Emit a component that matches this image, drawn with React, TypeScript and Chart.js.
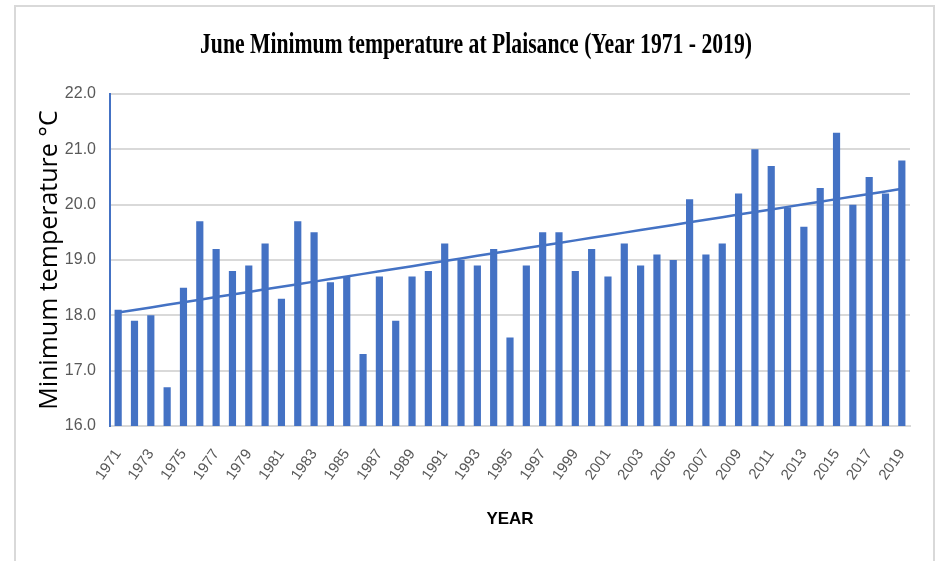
import React, { useEffect, useRef } from "react";
import { Chart, registerables } from "chart.js";

Chart.register(...registerables);

const years: string[] = [
  "1971","1972","1973","1974","1975","1976","1977","1978","1979","1980",
  "1981","1982","1983","1984","1985","1986","1987","1988","1989","1990",
  "1991","1992","1993","1994","1995","1996","1997","1998","1999","2000",
  "2001","2002","2003","2004","2005","2006","2007","2008","2009","2010",
  "2011","2012","2013","2014","2015","2016","2017","2018","2019",
];

const minTemp: number[] = [
  18.1, 17.9, 18.0, 16.7, 18.5, 19.7, 19.2, 18.8, 18.9, 19.3,
  18.3, 19.7, 19.5, 18.6, 18.7, 17.3, 18.7, 17.9, 18.7, 18.8,
  19.3, 19.0, 18.9, 19.2, 17.6, 18.9, 19.5, 19.5, 18.8, 19.2,
  18.7, 19.3, 18.9, 19.1, 19.0, 20.1, 19.1, 19.3, 20.2, 21.0,
  20.7, 19.95, 19.6, 20.3, 21.3, 20.0, 20.5, 20.2, 20.8,
];

const yTicks: number[] = [16, 17, 18, 19, 20, 21, 22];

const titleText = "June Minimum temperature at Plaisance (Year 1971 - 2019)";
const yTitle = "Minimum temperature °C";
const xTitle = "YEAR";

function linearTrend(vals: number[]): number[] {
  const n = vals.length;
  let sx = 0, sy = 0, sxx = 0, sxy = 0;
  vals.forEach((v, i) => { sx += i; sy += v; sxx += i * i; sxy += i * v; });
  const b = (n * sxy - sx * sy) / (n * sxx - sx * sx);
  const a = (sy - b * sx) / n;
  return vals.map((_, i) => a + b * i);
}

const framePlugin = {
  id: "frame",
  beforeDraw(chart: any) {
    const ctx = chart.ctx;
    ctx.save();
    ctx.fillStyle = "#ffffff";
    ctx.fillRect(0, 0, chart.width, chart.height);
    ctx.strokeStyle = "#d9d9d9";
    ctx.lineWidth = 2;
    ctx.beginPath();
    ctx.moveTo(15, 561);
    ctx.lineTo(15, 6);
    ctx.lineTo(934, 6);
    ctx.lineTo(934, 561);
    ctx.stroke();
    ctx.restore();
  },
  afterDraw(chart: any) {
    // condensed serif title, like the original
    const ctx = chart.ctx;
    ctx.save();
    ctx.font = "bold 29px 'Liberation Serif', serif";
    ctx.fillStyle = "#000000";
    ctx.textAlign = "center";
    ctx.textBaseline = "middle";
    const w = ctx.measureText(titleText).width;
    const sx = 552 / w;
    ctx.translate(476, 46);
    ctx.scale(sx, 1);
    ctx.fillText(titleText, 0, 0);
    ctx.restore();
  },
};

export default function App() {
  const ref = useRef<HTMLCanvasElement | null>(null);
  useEffect(() => {
    document.body.style.margin = "0";
    const canvas = ref.current!;
    const trend = linearTrend(minTemp);
    const chart = new Chart(canvas, {
      type: "bar",
      data: {
        labels: years,
        datasets: [
          {
            type: "line",
            label: "Trend",
            data: trend,
            borderColor: "#4472C4",
            borderWidth: 2.5,
            pointRadius: 0,
            fill: false,
            order: 0,
          } as any,
          {
            type: "bar",
            label: "Min temp",
            data: minTemp,
            backgroundColor: "#4472C4",
            borderWidth: 0,
            barPercentage: 0.44,
            categoryPercentage: 1.0,
            order: 1,
          },
        ],
      },
      options: {
        animation: false,
        responsive: false,
        maintainAspectRatio: false,
        layout: { padding: { left: 35, right: 27, top: 94, bottom: 10 } },
        plugins: {
          legend: { display: false },
          tooltip: { enabled: false },
          title: { display: false },
        },
        scales: {
          x: {
            afterFit: (scale: any) => { scale.height = 125; },
            grid: { display: false, drawTicks: false },
            border: { display: true, color: "#d9d9d9", width: 2 },
            ticks: {
              autoSkip: false,
              maxRotation: 55,
              minRotation: 55,
              color: "#595959",
              padding: 20,
              font: { family: "'Liberation Sans Narrow', 'Liberation Sans', sans-serif", size: 15 },
              callback: (_v: any, i: number) => (i % 2 === 0 ? years[i] : ""),
            },
            title: {
              display: true,
              text: xTitle,
              color: "#000000",
              font: { family: "'Liberation Sans Narrow', 'Liberation Sans', sans-serif", size: 17, weight: "bold" },
              padding: { top: 0, bottom: 21 },
            },
          },
          y: {
            min: 16,
            max: 22,
            afterFit: (scale: any) => { scale.width = 75; },
            afterBuildTicks: (axis: any) => {
              axis.ticks = yTicks.map((v) => ({ value: v }));
            },
            grid: { color: "#d9d9d9", lineWidth: 2, drawTicks: false },
            border: { display: true, color: "#4472C4", width: 2 },
            ticks: {
              color: "#595959",
              padding: 14,
              font: { family: "'Liberation Sans Narrow', 'Liberation Sans', sans-serif", size: 16 },
              callback: (v: any) => Number(v).toFixed(1),
            },
            title: {
              display: true,
              text: yTitle,
              color: "#000000",
              font: { family: "'Open Sans', sans-serif", size: 25 },
              padding: { top: 0, bottom: 0 },
            },
          },
        },
      },
      plugins: [framePlugin],
    });
    return () => chart.destroy();
  }, []);
  return <canvas ref={ref} width={937} height={561} style={{ display: "block" }} />;
}
